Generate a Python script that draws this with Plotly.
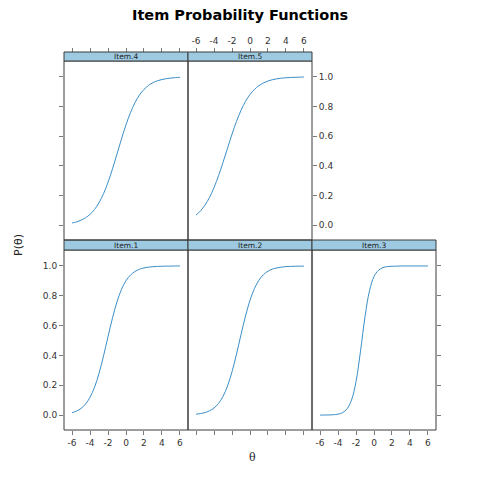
import plotly.graph_objects as go

theta = [-6, -5.5, -5, -4.5, -4, -3.5, -3, -2.5, -2, -1.5, -1, -0.5, 0,
         0.5, 1, 1.5, 2, 2.5, 3, 3.5, 4, 4.5, 5, 5.5, 6]

item1 = [0.016, 0.027, 0.045, 0.074, 0.120, 0.187, 0.280, 0.397, 0.526, 0.652,
         0.760, 0.843, 0.901, 0.939, 0.963, 0.978, 0.987, 0.992, 0.995, 0.997,
         0.998, 0.999, 0.999, 1.0, 1.0]
item2 = [0.006, 0.010, 0.017, 0.029, 0.048, 0.078, 0.126, 0.195, 0.291, 0.409,
         0.540, 0.664, 0.770, 0.849, 0.905, 0.942, 0.965, 0.979, 0.987, 0.992,
         0.996, 0.997, 0.998, 0.999, 0.999]
item3 = [0.0001, 0.0004, 0.001, 0.0025, 0.0064, 0.016, 0.042, 0.101, 0.225, 0.429,
         0.660, 0.834, 0.929, 0.971, 0.989, 0.996, 0.998, 0.999, 1.0, 1.0,
         1.0, 1.0, 1.0, 1.0, 1.0]
item4 = [0.015, 0.022, 0.034, 0.050, 0.073, 0.106, 0.152, 0.212, 0.289, 0.380,
         0.480, 0.582, 0.677, 0.759, 0.826, 0.878, 0.915, 0.942, 0.961, 0.974,
         0.982, 0.988, 0.992, 0.995, 0.997]
item5 = [0.068, 0.097, 0.136, 0.188, 0.254, 0.334, 0.424, 0.519, 0.614, 0.700,
         0.774, 0.835, 0.881, 0.916, 0.941, 0.959, 0.972, 0.981, 0.987, 0.991,
         0.994, 0.996, 0.997, 0.998, 0.999]

item_names = ["Item.1", "Item.2", "Item.3", "Item.4", "Item.5"]
x_ticks = [-6, -4, -2, 0, 2, 4, 6]
y_ticks = [0.0, 0.2, 0.4, 0.6, 0.8, 1.0]
y_tick_labels = ["0.0", "0.2", "0.4", "0.6", "0.8", "1.0"]

W = H = 480
OFF = 8  # page body margin
def px(x): return (x - OFF) / W
def py(y): return 1 - (y - OFF) / H

cols = [(64, 188), (188, 312), (312, 436)]
top_plot = (61, 240); top_strip = (52, 61)
bot_plot = (250, 430); bot_strip = (240, 250)

# panel: (name, data, col, row)  row 0 = top, 1 = bottom
panels = [
    ("Item.1", item1, 0, 1),
    ("Item.2", item2, 1, 1),
    ("Item.3", item3, 2, 1),
    ("Item.4", item4, 0, 0),
    ("Item.5", item5, 1, 0),
]

LINE = "#3a3a3a"
TICK = "#7a7a7a"
FONT = dict(family="DejaVu Sans", size=9, color="#333333")
CURVE = "#3b8ec8"
STRIP = "#9ecae1"

fig = go.Figure()
layout = dict(width=W, height=H, margin=dict(l=0, r=0, t=0, b=0, autoexpand=False),
              paper_bgcolor="white", plot_bgcolor="white", showlegend=False)
shapes = []
annotations = []

xcfg = {
    "Item.1": dict(side="bottom", ticks="outside", showticklabels=True),
    "Item.2": dict(side="bottom", ticks="outside", showticklabels=False),
    "Item.3": dict(side="bottom", ticks="outside", showticklabels=True),
    "Item.4": dict(side="top", ticks="outside", showticklabels=False),
    "Item.5": dict(side="top", ticks="outside", showticklabels=True),
}
ycfg = {
    "Item.1": dict(side="left", ticks="outside", showticklabels=True),
    "Item.2": dict(side="left", ticks="", showticklabels=False),
    "Item.3": dict(side="right", ticks="outside", showticklabels=False),
    "Item.4": dict(side="left", ticks="outside", showticklabels=False),
    "Item.5": dict(side="right", ticks="outside", showticklabels=True),
}

for i, (name, vals, c, r) in enumerate(panels):
    k = "" if i == 0 else str(i + 1)
    x0, x1 = cols[c]
    plot = top_plot if r == 0 else bot_plot
    strip = top_strip if r == 0 else bot_strip
    fig.add_trace(go.Scatter(x=theta, y=vals, mode="lines",
                             line=dict(color=CURVE, width=1, shape="spline"),
                             xaxis="x" + k, yaxis="y" + k, hoverinfo="skip"))
    xa = dict(domain=[px(x0), px(x1)], range=[-6.9, 6.9],
              tickvals=x_ticks, ticktext=[str(t) for t in x_ticks],
              ticklen=4, tickcolor=TICK, tickfont=FONT, automargin=False,
              showline=False, showgrid=False, zeroline=False, **xcfg[name])
    if r == 0:
        xa.update(anchor="free", position=py(strip[0]))
    else:
        xa.update(anchor="y" + k)
    layout["xaxis" + k] = xa
    layout["yaxis" + k] = dict(
        domain=[py(plot[1]), py(plot[0])], range=[-0.1, 1.107], anchor="x" + k,
        tickvals=y_ticks, ticktext=y_tick_labels,
        ticklen=4, tickcolor=TICK, tickfont=FONT, automargin=False,
        showline=False, showgrid=False, zeroline=False, **ycfg[name])
    shapes.append(dict(type="rect", xref="paper", yref="paper",
                       x0=px(x0), x1=px(x1), y0=py(plot[1]), y1=py(plot[0]),
                       fillcolor="rgba(0,0,0,0)", line=dict(color=LINE, width=1),
                       layer="above"))
    shapes.append(dict(type="rect", xref="paper", yref="paper",
                       x0=px(x0), x1=px(x1), y0=py(strip[1]), y1=py(strip[0]),
                       fillcolor=STRIP, line=dict(color=LINE, width=1), layer="above"))
    annotations.append(dict(text=name, xref="paper", yref="paper",
                            x=px((x0 + x1) / 2), y=py((strip[0] + strip[1]) / 2),
                            xanchor="center", yanchor="middle", showarrow=False,
                            font=dict(family="DejaVu Sans", size=7.5, color="#222222")))

annotations.append(dict(text="<b>Item Probability Functions</b>", xref="paper", yref="paper",
                        x=px(240), y=py(15), xanchor="center", yanchor="middle",
                        showarrow=False, font=dict(family="DejaVu Sans", size=14.5, color="black")))
annotations.append(dict(text="P(θ)", xref="paper", yref="paper", textangle=-90,
                        x=px(18), y=py(245), xanchor="center", yanchor="middle",
                        showarrow=False, font=dict(family="DejaVu Sans", size=11, color="#222222")))
annotations.append(dict(text="θ", xref="paper", yref="paper",
                        x=px(253), y=py(457), xanchor="center", yanchor="middle",
                        showarrow=False, font=dict(family="DejaVu Serif", size=11, color="#222222")))

layout["shapes"] = shapes
layout["annotations"] = annotations
fig.update_layout(**layout)
fig.write_html("out.html")
